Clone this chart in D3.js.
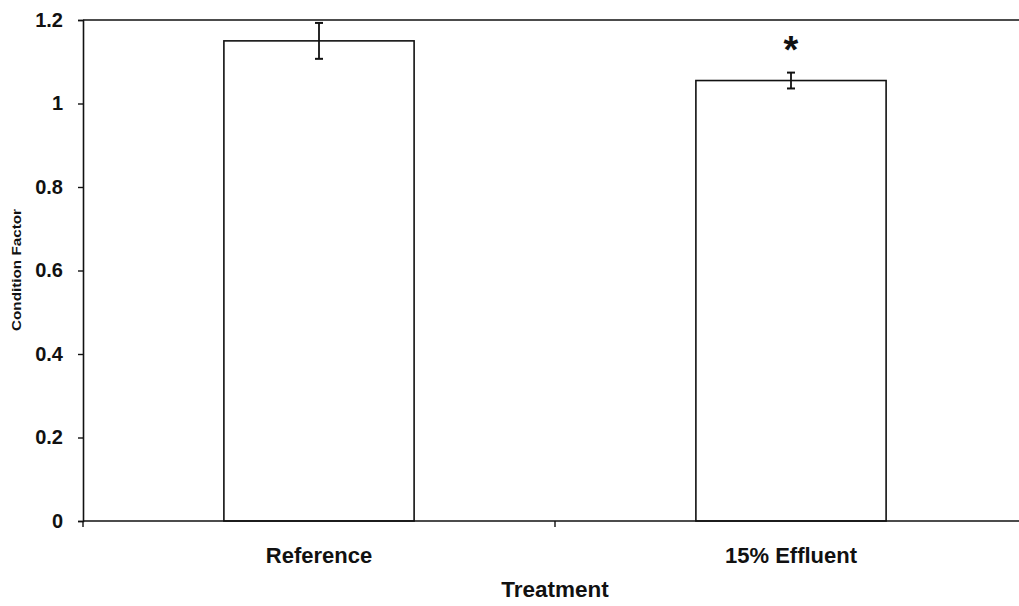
<!DOCTYPE html>
<html>
<head>
<meta charset="utf-8">
<script src="https://cdn.jsdelivr.net/npm/d3@7"></script>
<style>
  html, body { margin: 0; padding: 0; background: #fff; }
  svg { display: block; font-family: "Liberation Sans", Arial, Helvetica, sans-serif; }
</style>
</head>
<body>
<svg id="chart" width="1019" height="606"></svg>
<script>
const categories = ["Reference", "15% Effluent"];
const values = [1.15, 1.055];
const errors = [0.043, 0.019];
const significant = [false, true];
const yTicks = [0, 0.2, 0.4, 0.6, 0.8, 1, 1.2];
const xTitle = "Treatment";
const yTitle = "Condition Factor";

(function () {
const svg = d3.select("#chart");
const mLeft = 83, mTop = 20, mBottom = 521, mRight = 1027;

const x = d3.scaleBand().domain(categories).range([mLeft, mRight]).paddingInner(0).paddingOuter(0);
const y = d3.scaleLinear().domain([0, 1.2]).range([mBottom, mTop]);

const barW = x.bandwidth() * 0.403;

// Bars
svg.selectAll("rect.bar").data(categories).enter().append("rect")
  .attr("class", "bar")
  .attr("x", d => x(d) + x.bandwidth() / 2 - barW / 2)
  .attr("y", (d, i) => y(values[i]))
  .attr("width", barW)
  .attr("height", (d, i) => y(0) - y(values[i]))
  .attr("fill", "#fff")
  .attr("stroke", "#111")
  .attr("stroke-width", 1.6);

// Error bars
const eb = svg.selectAll("g.err").data(categories).enter().append("g").attr("class", "err");
eb.append("line")
  .attr("x1", d => x(d) + x.bandwidth() / 2).attr("x2", d => x(d) + x.bandwidth() / 2)
  .attr("y1", (d, i) => y(values[i] + errors[i])).attr("y2", (d, i) => y(values[i] - errors[i]))
  .attr("stroke", "#111").attr("stroke-width", 1.8);
[1, -1].forEach(s => {
  eb.append("line")
    .attr("x1", d => x(d) + x.bandwidth() / 2 - 4).attr("x2", d => x(d) + x.bandwidth() / 2 + 4)
    .attr("y1", (d, i) => y(values[i] + s * errors[i])).attr("y2", (d, i) => y(values[i] + s * errors[i]))
    .attr("stroke", "#111").attr("stroke-width", 2);
});

// Significance asterisks
svg.selectAll("text.sig").data(categories.filter((d, i) => significant[i])).enter().append("text")
  .attr("class", "sig")
  .attr("x", d => x(d) + x.bandwidth() / 2)
  .attr("y", 63)
  .attr("text-anchor", "middle")
  .attr("font-size", 38)
  .attr("font-weight", "bold")
  .attr("fill", "#111")
  .text("*");

// Plot frame: top line
svg.append("line").attr("x1", mLeft).attr("x2", 1019).attr("y1", mTop).attr("y2", mTop)
  .attr("stroke", "#111").attr("stroke-width", 1.6);

// Y axis
const yAxis = d3.axisLeft(y).tickValues(yTicks).tickSize(5).tickPadding(15)
  .tickFormat(d => d3.format("~g")(d));
const gy = svg.append("g").attr("transform", `translate(${mLeft},0)`).call(yAxis);
gy.select(".domain").attr("stroke", "#111").attr("stroke-width", 1.6);
gy.selectAll(".tick line").attr("stroke", "#111").attr("stroke-width", 1.4);
gy.selectAll(".tick text").attr("font-size", 20).attr("font-weight", "bold")
  .attr("fill", "#111").attr("font-family", "Liberation Sans, Arial, sans-serif");

// X axis
const xAxis = d3.axisBottom(x).tickSize(0).tickPadding(0);
const gx = svg.append("g").attr("transform", `translate(0,${mBottom})`).call(xAxis);
gx.select(".domain").remove();
gx.selectAll(".tick text").attr("font-size", 22).attr("font-weight", "bold")
  .attr("fill", "#111").attr("dy", "0").attr("y", 42)
  .attr("font-family", "Liberation Sans, Arial, sans-serif");
svg.append("line").attr("x1", mLeft).attr("x2", 1019).attr("y1", mBottom).attr("y2", mBottom)
  .attr("stroke", "#111").attr("stroke-width", 1.6);
// Category boundary ticks
const bounds = categories.map(d => x(d)).concat([x(categories[categories.length - 1]) + x.bandwidth()]);
svg.selectAll("line.xb").data(bounds.filter(b => b <= 1019)).enter().append("line")
  .attr("class", "xb")
  .attr("x1", d => d).attr("x2", d => d)
  .attr("y1", mBottom).attr("y2", mBottom + 6)
  .attr("stroke", "#111").attr("stroke-width", 1.4);

// Titles
svg.append("text").attr("x", (mLeft + mRight) / 2).attr("y", 597)
  .attr("text-anchor", "middle").attr("font-size", 22.5).attr("font-weight", "bold")
  .attr("fill", "#111").text(xTitle);
svg.append("text").attr("transform", `translate(21,${270}) rotate(-90)`)
  .attr("text-anchor", "middle").attr("font-size", 13).attr("font-weight", "bold")
  .attr("textLength", 122).attr("lengthAdjust", "spacingAndGlyphs")
  .attr("fill", "#111").text(yTitle);
})();
</script>
</body>
</html>
